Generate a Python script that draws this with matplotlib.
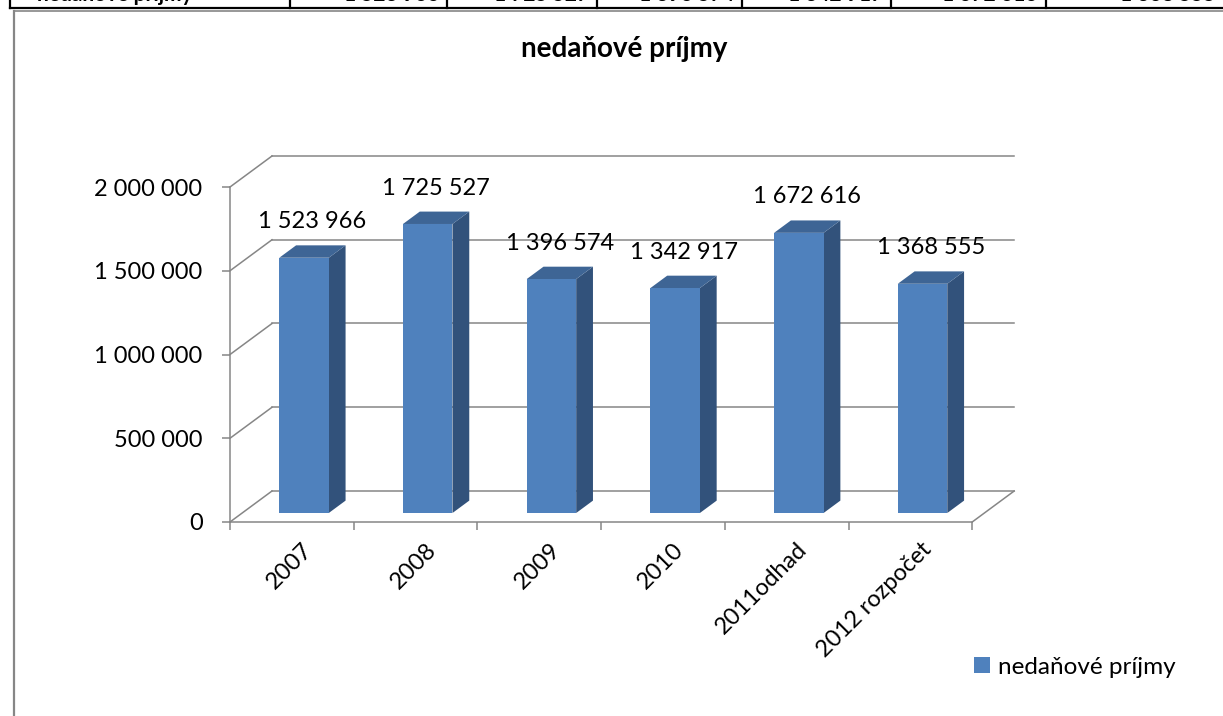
import numpy as np
import matplotlib
matplotlib.use('Agg')
import matplotlib.pyplot as plt
from matplotlib.patches import Polygon, Patch
from matplotlib.lines import Line2D

plt.rcParams['font.family'] = ['Lato', 'DejaVu Sans']

# data
categories = ['2007', '2008', '2009', '2010', '2011odhad', '2012 rozpočet']
values = [1523966, 1725527, 1396574, 1342917, 1672616, 1368555]
yticks = [0, 500000, 1000000, 1500000, 2000000]
series_name = 'nedaňové príjmy'
title = 'nedaňové príjmy'

# table row above the chart (cut off at the top of the page)
table_cells = ['nedaňové príjmy', '1 523 966', '1 725 527', '1 396 574',
               '1 342 917', '1 672 616', '1 368 555']
table_edges = [10, 290, 447, 597, 742, 891, 1046, 1223]

front_col = '#4F81BD'
side_col = '#32527B'
top_col = '#3E6595'
grid_col = '#868686'

W, H = 1223, 716
fig = plt.figure(figsize=(W / 100, H / 100), dpi=100)

# pseudo 3d geometry (pixels of the reference)
X0, Y0 = 230, 522          # front origin
CW = 123.7                 # px per category
VS = 335 / 2e6             # px per value unit
DX = 42 / CW               # depth shift in category units
DY = 31 / VS               # depth shift in value units
d0, dt = 0.29, 0.4         # bar depth start and thickness
bw = 0.4                   # bar width

xmax, ymax = 6.4, 2.2e6
ax = fig.add_axes([X0 / W, (H - Y0) / H, xmax * CW / W, ymax * VS / H])
ax.set_xlim(0, xmax)
ax.set_ylim(0, ymax)
ax.patch.set_alpha(0)

for s in ['top', 'right']:
    ax.spines[s].set_visible(False)
ax.spines['left'].set_bounds(0, 2e6)
ax.spines['bottom'].set_bounds(0, len(categories))
for s in ['left', 'bottom']:
    ax.spines[s].set_color(grid_col)
    ax.spines[s].set_linewidth(1.1)

ax.set_yticks(yticks, labels=[f'{t:,}'.replace(',', ' ') for t in yticks])
ax.set_xticks(np.arange(len(categories) + 1), labels=[])
ax.tick_params(axis='both', direction='out', length=5.8, width=1.1,
               color=grid_col, labelsize=17)
ax.tick_params(axis='y', pad=14)

# walls: gridlines on back wall and side wall
for t in yticks:
    ax.plot([DX, len(categories) + DX], [t + DY, t + DY], color=grid_col, lw=1.1,
            zorder=1, clip_on=False)
    ax.plot([0, DX], [t, t + DY], color=grid_col, lw=1.1, zorder=1, clip_on=False)
# floor right edge
n = len(categories)
ax.plot([n, n + DX], [0, DY], color=grid_col, lw=1.1, zorder=1, clip_on=False)

# bars
for i, v in enumerate(values):
    xl = i + 0.5 - bw / 2 + d0 * DX
    xr = xl + bw
    yb = d0 * DY
    yt = yb + v
    ox, oy = dt * DX, dt * DY
    ax.add_patch(Polygon([(xr, yb), (xr + ox, yb + oy), (xr + ox, yt + oy), (xr, yt)],
                         closed=True, facecolor=side_col, edgecolor='none', zorder=3))
    ax.add_patch(Polygon([(xl, yt), (xr, yt), (xr + ox, yt + oy), (xl + ox, yt + oy)],
                         closed=True, facecolor=top_col, edgecolor='none', zorder=3))
    ax.add_patch(Polygon([(xl, yb), (xr, yb), (xr, yt), (xl, yt)],
                         closed=True, facecolor=front_col, edgecolor='none', zorder=4))
    ax.annotate(f'{v:,}'.replace(',', ' '), xy=(i + 0.5 + (d0 + dt / 2) * DX, yt + oy),
                xytext=(0, 17), textcoords='offset pixels', ha='center', va='baseline',
                fontsize=17, zorder=5)

# category labels
for i, c in enumerate(categories):
    ax.annotate(c, xy=(i + 0.5, 0), xytext=(10, -17), textcoords='offset pixels',
                rotation=45, rotation_mode='anchor', ha='right', va='top', fontsize=17)

# title
fig.text(624 / W, 1 - 57 / H, title, ha='center', va='baseline', fontsize=20,
         fontweight='bold')

# legend
fig.legend(handles=[Patch(facecolor=front_col, edgecolor='none')], labels=[series_name],
           loc='center left', bbox_to_anchor=(974 / W, 1 - 667 / H), frameon=False,
           fontsize=17.5, handlelength=0.65, handleheight=0.65, handletextpad=0.35,
           borderpad=0, borderaxespad=0)

# page decoration: table row border and chart frame
fig.add_artist(Line2D([10 / W, 1], [1 - 8 / H, 1 - 8 / H], color='black', lw=1.6))
for xe in table_edges[:-1]:
    fig.add_artist(Line2D([xe / W, xe / W], [1 - 8 / H, 1], color='black', lw=1.6))
fig.add_artist(Line2D([14 / W, 1], [1 - 10.5 / H, 1 - 10.5 / H], color=grid_col, lw=1.2))
fig.add_artist(Line2D([14 / W, 14 / W], [0, 1 - 10.5 / H], color=grid_col, lw=1.6))
for k, txt in enumerate(table_cells):
    if k == 0:
        fig.text(37 / W, 1 - 1 / H, txt, ha='left', va='baseline', fontsize=15,
                 fontweight='bold')
    else:
        fig.text((table_edges[k + 1] - 8) / W, 1 - 1 / H, txt, ha='right', va='baseline',
                 fontsize=15, fontweight='bold')

fig.savefig('out.png', dpi=100)
